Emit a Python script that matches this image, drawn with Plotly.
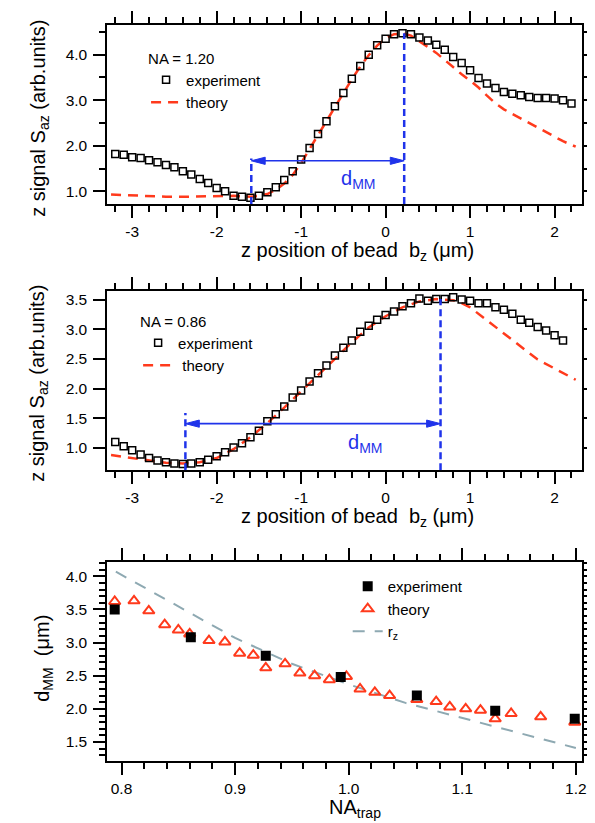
import plotly.graph_objects as go

FONT = "Liberation Sans, Arial, Helvetica, sans-serif"
RED = "#ff3a1c"
BLUE = "#1f33ea"
GRAY = "#8ea9b2"

# ---------------- Panel 1 : NA = 1.20 ----------------
p1_exp_x = [-3.2, -3.1, -3.0, -2.9, -2.8, -2.7, -2.6, -2.5, -2.4, -2.3, -2.2, -2.1,
            -2.0, -1.9, -1.8, -1.7, -1.6, -1.5, -1.4, -1.3, -1.2, -1.1, -1.0, -0.9,
            -0.8, -0.7, -0.6, -0.5, -0.4, -0.3, -0.2, -0.1, 0.0, 0.1, 0.2, 0.3, 0.4,
            0.5, 0.6, 0.7, 0.8, 0.9, 1.0, 1.1, 1.2, 1.3, 1.4, 1.5, 1.6, 1.7, 1.8, 1.9,
            2.0, 2.1, 2.2]
p1_exp_y = [1.82, 1.80, 1.75, 1.73, 1.68, 1.64, 1.58, 1.53, 1.44, 1.37, 1.27, 1.18,
            1.07, 1.00, 0.90, 0.88, 0.86, 0.90, 0.98, 1.09, 1.25, 1.44, 1.70, 1.95,
            2.26, 2.54, 2.87, 3.16, 3.47, 3.75, 4.00, 4.21, 4.35, 4.45, 4.47, 4.45, 4.38,
            4.31, 4.22, 4.11, 3.95, 3.82, 3.66, 3.49, 3.37, 3.27, 3.18, 3.14, 3.11, 3.07,
            3.05, 3.05, 3.04, 3.00, 2.93]
p1_th_x = [-3.25, -3.0, -2.8, -2.6, -2.4, -2.2, -2.0, -1.8, -1.7, -1.6, -1.5, -1.4,
           -1.3, -1.2, -1.1, -1.0, -0.9, -0.8, -0.7, -0.6, -0.5, -0.4, -0.3, -0.2,
           -0.1, 0.0, 0.1, 0.2, 0.3, 0.4, 0.5, 0.6, 0.7, 0.8, 0.9, 1.0, 1.1, 1.2, 1.3,
           1.4, 1.5, 1.6, 1.7, 1.8, 1.9, 2.0, 2.1, 2.2, 2.25]
p1_th_y = [0.93, 0.91, 0.89, 0.88, 0.88, 0.89, 0.90, 0.90, 0.89, 0.88, 0.90, 0.94,
           1.03, 1.17, 1.36, 1.62, 1.93, 2.24, 2.55, 2.87, 3.17, 3.46, 3.74, 3.99,
           4.20, 4.36, 4.45, 4.47, 4.42, 4.30, 4.17, 4.04, 3.88, 3.73, 3.57, 3.43, 3.28,
           3.10, 2.93, 2.80, 2.70, 2.60, 2.49, 2.39, 2.29, 2.19, 2.10, 2.02, 1.98]
p1_dmm = [-1.59, 0.22]      # left / right edges of d_MM
p1_dmm_levels = [1.72, 4.47, 1.67]   # left-line top, right-line top, arrow level

# ---------------- Panel 2 : NA = 0.86 ----------------
p2_exp_x = [-3.2, -3.1, -3.0, -2.9, -2.8, -2.7, -2.6, -2.5, -2.4, -2.3, -2.2, -2.1,
            -2.0, -1.9, -1.8, -1.7, -1.6, -1.5, -1.4, -1.3, -1.2, -1.1, -1.0, -0.9,
            -0.8, -0.7, -0.6, -0.5, -0.4, -0.3, -0.2, -0.1, 0.0, 0.1, 0.2, 0.3, 0.4,
            0.5, 0.6, 0.7, 0.8, 0.9, 1.0, 1.1, 1.2, 1.3, 1.4, 1.5, 1.6, 1.7, 1.8, 1.9,
            2.0, 2.1]
p2_exp_y = [1.10, 1.03, 0.96, 0.89, 0.83, 0.79, 0.76, 0.74, 0.73, 0.74, 0.76, 0.80,
            0.86, 0.93, 1.01, 1.08, 1.18, 1.29, 1.45, 1.57, 1.70, 1.85, 1.97, 2.12,
            2.26, 2.39, 2.56, 2.69, 2.81, 2.96, 3.06, 3.16, 3.24, 3.30, 3.39, 3.44, 3.52,
            3.48, 3.51, 3.51, 3.54, 3.50, 3.48, 3.44, 3.44, 3.37, 3.33, 3.26, 3.16, 3.11,
            3.04, 2.98, 2.90, 2.81]
p2_th_x = [-3.25, -3.1, -3.0, -2.8, -2.6, -2.4, -2.2, -2.0, -1.8, -1.6, -1.4, -1.2,
           -1.0, -0.8, -0.6, -0.4, -0.2, 0.0, 0.2, 0.4, 0.6, 0.8, 0.9, 1.0, 1.2, 1.4,
           1.6, 1.8, 2.0, 2.1, 2.25]
p2_th_y = [0.88, 0.85, 0.82, 0.78, 0.75, 0.74, 0.76, 0.83, 0.98, 1.18, 1.42, 1.68,
           1.95, 2.22, 2.50, 2.78, 3.03, 3.22, 3.37, 3.47, 3.51, 3.49, 3.44, 3.37, 3.15,
           2.92, 2.71, 2.49, 2.34, 2.26, 2.15]
p2_dmm = [-2.37, 0.65]
p2_dmm_levels = [1.59, 3.51, 1.41]

# ---------------- Panel 3 : d_MM vs NA_trap ----------------
p3_exp_x = [0.794, 0.861, 0.927, 0.993, 1.060, 1.129, 1.199]
p3_exp_y = [3.50, 3.08, 2.80, 2.48, 2.20, 1.97, 1.85]
p3_th_x = [0.794, 0.811, 0.824, 0.838, 0.850, 0.860, 0.877, 0.891, 0.904, 0.916,
           0.927, 0.944, 0.957, 0.970, 0.983, 0.998, 1.010, 1.023, 1.036, 1.060,
           1.077, 1.089, 1.103, 1.116, 1.129, 1.143, 1.169, 1.199]
p3_th_y = [3.62, 3.63, 3.48, 3.27, 3.19, 3.13, 3.03, 3.01, 2.84, 2.81,
           2.62, 2.68, 2.54, 2.50, 2.44, 2.49, 2.30, 2.25, 2.20, 2.14,
           2.11, 2.03, 2.00, 1.98, 1.85, 1.93, 1.88, 1.80]
p3_rz_x = [0.795, 0.85, 0.90, 0.95, 1.00, 1.05, 1.10, 1.15, 1.20]
p3_rz_y = [4.07, 3.55, 3.07, 2.68, 2.37, 2.09, 1.86, 1.63, 1.41]

# ---------------- layout geometry ----------------
W, H = 595, 823
XDOM = [100 / W, 578 / W]
DOM1 = [1 - 196 / H, 1 - 17.3 / H]
DOM2 = [1 - 462.3 / H, 1 - 283.3 / H]
DOM3 = [1 - 753.3 / H, 1 - 554 / H]
XR12 = [-3.294, 2.326]
YR1 = [0.721, 4.646]
YR2 = [0.624, 3.64]
XR3 = [0.7875, 1.2055]
YR3 = [1.209, 4.216]

TICK_SIZE = 15.5
TITLE_SIZE = 20
LEG_SIZE = 15

fig = go.Figure()

# panel 1 traces
fig.add_trace(go.Scatter(x=p1_th_x, y=p1_th_y, mode="lines", name="theory",
                         line=dict(color=RED, width=2.5, dash="10px,7px"),
                         xaxis="x", yaxis="y", legend="legend", legendrank=2))
fig.add_trace(go.Scatter(x=p1_exp_x, y=p1_exp_y, mode="markers", name="experiment",
                         marker=dict(symbol="square-open", size=7, color="black",
                                     line=dict(width=1.5, color="black")),
                         xaxis="x", yaxis="y", legend="legend", legendrank=1))
# panel 2 traces
fig.add_trace(go.Scatter(x=p2_th_x, y=p2_th_y, mode="lines", name="\u00a0theory",
                         line=dict(color=RED, width=2.5, dash="10px,7px"),
                         xaxis="x2", yaxis="y2", legend="legend2", legendrank=2))
fig.add_trace(go.Scatter(x=p2_exp_x, y=p2_exp_y, mode="markers", name="experiment",
                         marker=dict(symbol="square-open", size=7, color="black",
                                     line=dict(width=1.5, color="black")),
                         xaxis="x2", yaxis="y2", legend="legend2", legendrank=1))
# panel 3 traces
fig.add_trace(go.Scatter(x=p3_rz_x, y=p3_rz_y, mode="lines", name="r<sub>z</sub>",
                         line=dict(color=GRAY, width=2, dash="12px,10px"),
                         xaxis="x3", yaxis="y3", legend="legend3", legendrank=3))
fig.add_trace(go.Scatter(x=p3_th_x, y=p3_th_y, mode="markers", name="theory",
                         marker=dict(symbol="triangle-up-open", size=10, color=RED,
                                     line=dict(width=2, color=RED)),
                         xaxis="x3", yaxis="y3", legend="legend3", legendrank=2))
fig.add_trace(go.Scatter(x=p3_exp_x, y=p3_exp_y, mode="markers", name="experiment",
                         marker=dict(symbol="square", size=10, color="black"),
                         xaxis="x3", yaxis="y3", legend="legend3", legendrank=1))

# d_MM arrows (lines + arrowheads)
shapes = []


def dmm_marks(edges, levels, xr, yr, ydom, xref, yref):
    ppx = (XDOM[1] - XDOM[0]) * W / (xr[1] - xr[0])
    ppy = (ydom[1] - ydom[0]) * H / (yr[1] - yr[0])
    left, right = edges
    ltop, rtop, lvl = levels
    for xv, top in ((left, ltop), (right, rtop)):
        shapes.append(dict(type="line", xref=xref, yref=yref, x0=xv, x1=xv,
                           y0=yr[0], y1=top, line=dict(color=BLUE, width=2.5, dash="7px,4px")))
    L, hw = 14 / ppx, 3.6 / ppy
    shapes.append(dict(type="line", xref=xref, yref=yref, x0=left + L * 0.8, x1=right - L * 0.8,
                       y0=lvl, y1=lvl, line=dict(color=BLUE, width=1.6)))
    for tip, d in ((left, -1), (right, 1)):
        base = tip - d * L
        shapes.append(dict(type="path", xref=xref, yref=yref,
                           path=f"M {tip},{lvl} L {base},{lvl + hw} L {base},{lvl - hw} Z",
                           fillcolor=BLUE, line=dict(color=BLUE, width=1)))


dmm_marks(p1_dmm, p1_dmm_levels, XR12, YR1, DOM1, "x", "y")
dmm_marks(p2_dmm, p2_dmm_levels, XR12, YR2, DOM2, "x2", "y2")


def axis(rng, domain, anchor, dtick=None, minor=None, fmt=None, tickvals=None, ticktext=None,
         standoff=None):
    d = dict(range=rng, domain=domain, anchor=anchor, showline=True, linecolor="black",
             linewidth=2, mirror="allticks", ticks="outside", ticklen=12, tickwidth=2,
             tickcolor="black", showgrid=False, zeroline=False,
             tickfont=dict(family=FONT, size=TICK_SIZE, color="black"))
    if tickvals is not None:
        d.update(tickmode="array", tickvals=tickvals, ticktext=ticktext)
    else:
        d.update(dtick=dtick, tick0=0)
    if fmt:
        d["tickformat"] = fmt
    if minor:
        d["minor"] = dict(ticks="outside", ticklen=6, tickwidth=2, tickcolor="black",
                          dtick=minor, tick0=0, showgrid=False)
    if standoff is not None:
        d["ticklabelstandoff"] = standoff
    return d


x12_vals = [-3, -2, -1, 0, 1, 2]
x12_text = ["-3", "-2", "-1", "0", "1", "2"]

legend_common = dict(bgcolor="rgba(0,0,0,0)", borderwidth=0,
                     font=dict(family=FONT, size=LEG_SIZE, color="black"),
                     xanchor="left", yanchor="top", tracegroupgap=0)


def ann(text, x, y, angle=0, size=TITLE_SIZE, color="black", xref="paper", yref="paper"):
    return dict(text=text, x=x, y=y, xref=xref, yref=yref, textangle=angle, showarrow=False,
                xanchor="center", yanchor="middle",
                font=dict(family=FONT, size=size, color=color))


annotations = [
    ann("z position of bead\u00a0\u00a0b<sub>z</sub>\u00a0(μm)", 352 / W, 1 - 243 / H),
    ann("z signal S<sub>az</sub> (arb.units)", 31 / W, 1 - 110 / H, angle=-90),
    ann("z position of bead\u00a0\u00a0b<sub>z</sub>\u00a0(μm)", 352 / W, 1 - 509 / H),
    ann("z signal S<sub>az</sub> (arb.units)", 31 / W, 1 - 375 / H, angle=-90),
    ann("NA<sub>trap</sub>", 349 / W, 1 - 800 / H),
    ann("d<sub>MM</sub>\u00a0\u00a0(μm)", 35 / W, 1 - 650 / H, angle=-90),
    ann("d<sub>MM</sub>", -0.33, 1.25, color=BLUE, xref="x", yref="y"),
    ann("d<sub>MM</sub>", -0.24, 1.08, color=BLUE, xref="x2", yref="y2"),
]

fig.update_layout(
    width=W, height=H, autosize=False,
    margin=dict(l=0, r=0, t=0, b=0),
    paper_bgcolor="white", plot_bgcolor="white",
    font=dict(family=FONT, size=14, color="black"),
    showlegend=True,
    xaxis=axis(XR12, XDOM, "y", minor=0.2, tickvals=x12_vals, ticktext=x12_text),
    yaxis=axis(YR1, DOM1, "x", dtick=1, minor=0.5, fmt=".1f", standoff=3),
    xaxis2=axis(XR12, XDOM, "y2", minor=0.2, tickvals=x12_vals, ticktext=x12_text),
    yaxis2=axis(YR2, DOM2, "x2", dtick=0.5, fmt=".1f", standoff=3),
    xaxis3=axis(XR3, XDOM, "y3", dtick=0.1, minor=0.02, fmt=".1f"),
    yaxis3=axis(YR3, DOM3, "x3", dtick=0.5, minor=0.1, fmt=".1f", standoff=3),
    legend=dict(legend_common, x=139 / W, y=1 - 36 / H,
                title=dict(text="NA = 1.20", font=dict(family=FONT, size=LEG_SIZE, color="black"))),
    legend2=dict(legend_common, x=131 / W, y=1 - 299 / H,
                 title=dict(text="NA = 0.86", font=dict(family=FONT, size=LEG_SIZE, color="black"))),
    legend3=dict(legend_common, x=342 / W, y=1 - 562 / H),
    shapes=shapes,
    annotations=annotations,
)

fig.write_html("out.html")
